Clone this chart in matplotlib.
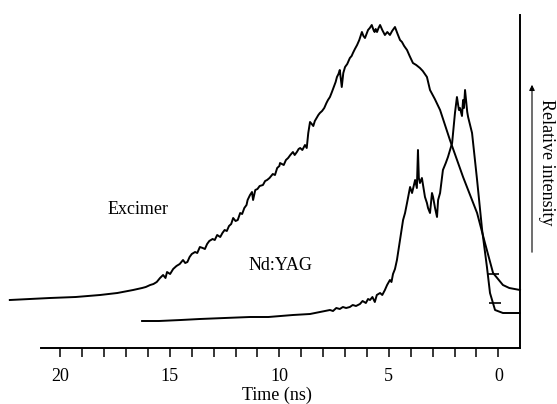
import matplotlib
matplotlib.use("Agg")
import matplotlib.pyplot as plt
from matplotlib.ticker import FixedLocator, FixedFormatter

# ---- data (time in ns, relative intensity in arbitrary units) ----
excimer_t = [22.31, 21.4, 20.48, 19.3, 18.19, 17.4, 16.68, 16.27, 16.1, 15.9,
             15.75, 15.6, 15.45, 15.31, 15.2, 15.13, 14.99, 14.85, 14.7, 14.55,
             14.4, 14.3, 14.2, 14.1, 14.0, 13.85, 13.75, 13.63, 13.5, 13.4,
             13.3, 13.2, 13.05, 12.95, 12.84, 12.7, 12.6, 12.5, 12.4, 12.3,
             12.2, 12.11, 12.0, 11.9, 11.79, 11.7, 11.6, 11.5, 11.45, 11.34,
             11.25, 11.2, 11.1, 11.0, 10.9, 10.75, 10.65, 10.56, 10.45, 10.3,
             10.2, 10.1, 10.0, 9.97, 9.8, 9.7, 9.6, 9.5, 9.38, 9.3,
             9.2, 9.12, 9.05, 8.95, 8.83, 8.75, 8.68, 8.6, 8.52, 8.45,
             8.38, 8.3, 8.22, 8.15, 8.05, 7.95, 7.85, 7.78, 7.69, 7.6,
             7.5, 7.43, 7.37, 7.3, 7.24, 7.15, 7.08, 7.0, 6.9, 6.78,
             6.7, 6.64, 6.55, 6.45, 6.35, 6.23, 6.16, 6.09, 6.02, 5.95,
             5.87, 5.78, 5.7, 5.65, 5.6, 5.54, 5.47, 5.4, 5.3, 5.18,
             5.07, 4.95, 4.85, 4.72, 4.6, 4.49, 4.4, 4.3, 4.17, 4.05,
             3.9, 3.75, 3.58, 3.45, 3.26, 3.12, 2.9, 2.66, 2.45, 2.21,
             1.61, 0.97, 0.61, 0.24, -0.21, -0.5, -0.99]
excimer_i = [48, 49, 50, 51, 53, 55, 58, 60, 61, 63,
             64, 66, 70, 73, 70, 76, 74, 79, 82, 84,
             88, 85, 86, 91, 94, 96, 95, 101, 100, 99,
             104, 107, 109, 108, 113, 111, 115, 118, 117, 122,
             124, 130, 127, 128, 135, 134, 140, 143, 148, 153,
             156, 148, 158, 159, 162, 163, 167, 168, 170, 174,
             173, 180, 182, 185, 183, 188, 190, 193, 196, 193,
             196, 199, 200, 198, 203, 200, 215, 226, 224, 222,
             227, 230, 233, 235, 237, 240, 245, 248, 251, 256,
             262, 266, 271, 274, 278, 261, 275, 281, 284, 290,
             292, 295, 299, 303, 308, 316, 312, 310, 314, 318,
             320, 323, 318, 316, 319, 316, 320, 323, 318, 313,
             316, 313, 317, 321, 314, 308, 306, 302, 298, 292,
             285, 283, 280, 277, 271, 258, 249, 238, 224, 208,
             171, 135, 105, 75, 63, 60, 58]

ndyag_t = [16.27, 15.5, 14.5, 13.63, 12.5, 11.34, 10.5, 9.38, 8.6, 7.69,
           7.55, 7.4, 7.24, 7.1, 6.95, 6.78, 6.65, 6.5, 6.32, 6.2,
           6.05, 5.95, 5.86, 5.75, 5.64, 5.55, 5.4, 5.3, 5.18, 5.08,
           4.95, 4.88, 4.81, 4.72, 4.63,
           4.49, 4.35, 4.26, 4.17, 4.03, 3.94, 3.8, 3.72, 3.67, 3.63,
           3.58, 3.49, 3.35, 3.26, 3.21, 3.12, 3.03, 2.98, 2.89, 2.8,
           2.75, 2.66, 2.53, 2.4, 2.3, 2.11, 1.98, 1.89, 1.8, 1.75,
           1.66, 1.61, 1.57, 1.52, 1.42, 1.38, 1.2, 0.97, 0.74, 0.52,
           0.38, 0.15, -0.21, -0.67, -0.99]
ndyag_i = [27, 27, 28, 29, 30, 31, 31, 33, 34, 38,
           37, 40, 39, 41, 40, 41, 43, 42, 44, 47,
           45, 49, 48, 51, 46, 53, 55, 53, 58, 63,
           68, 66, 74, 79, 88,
           108, 128, 135, 145, 161, 155, 168, 160, 198, 170,
           165, 170, 151, 145, 140, 135, 155, 151, 140, 131,
           148, 155, 178, 185, 191, 205, 235, 251, 238, 240,
           232, 248, 240, 258, 236, 231, 215, 168, 118, 81,
           55, 38, 35, 35, 35]

# small horizontal fiducial marks on the curves
mark_t = [0.24, 0.15]
mark_i = [74, 45]

major_ticks = [0, 5, 10, 15, 20]
major_labels = ["0", "5", "10", "15", "20"]
minor_ticks = list(range(-1, 21))

serif = ["Liberation Serif", "DejaVu Serif"]
plt.rcParams["font.family"] = serif

W, H = 557, 404
fig = plt.figure(figsize=(W / 100, H / 100), dpi=100)
ax = fig.add_axes([5 / W, 1 - 348 / H, 515 / W, 333 / H])

ax.plot(excimer_t, excimer_i, color="black", lw=1.4, clip_on=False)
ax.plot(ndyag_t, ndyag_i, color="black", lw=1.4, clip_on=False)
ax.plot(mark_t, mark_i, ls="none", marker="_", ms=9, mew=1.2, color="black",
        clip_on=False)

ax.set_xlim(22.53, -0.99)
ax.set_ylim(0, 333)

for s in ["left", "top"]:
    ax.spines[s].set_visible(False)
ax.spines["bottom"].set_bounds(20.9, -0.99)
ax.spines["bottom"].set_linewidth(1.4)
ax.spines["right"].set_linewidth(1.4)

ax.xaxis.set_major_locator(FixedLocator(major_ticks))
ax.xaxis.set_major_formatter(FixedFormatter(major_labels))
ax.xaxis.set_minor_locator(FixedLocator(minor_ticks))
ax.tick_params(axis="x", which="both", direction="out", length=6.5, width=1.1,
               pad=8, labelsize=13)
ax.set_yticks([])

ax.text(16.45, 138, "Excimer", fontsize=13, ha="center", va="center")
ax.text(9.95, 83, "Nd:YAG", fontsize=13, ha="center", va="center")

fig.text(277 / W, 1 - 395 / H, "Time (ns)", fontsize=13, ha="center",
         va="center")
fig.text(547 / W, 1 - 162 / H, "Relative intensity", fontsize=13,
         rotation=270, ha="center", va="center")
fig.add_artist(matplotlib.patches.FancyArrowPatch(
    (532 / W, 1 - 255 / H), (532 / W, 1 - 82 / H),
    transform=fig.transFigure, arrowstyle="-|>", mutation_scale=8,
    lw=0.8, color="black"))

fig.savefig("out.png", dpi=100)
